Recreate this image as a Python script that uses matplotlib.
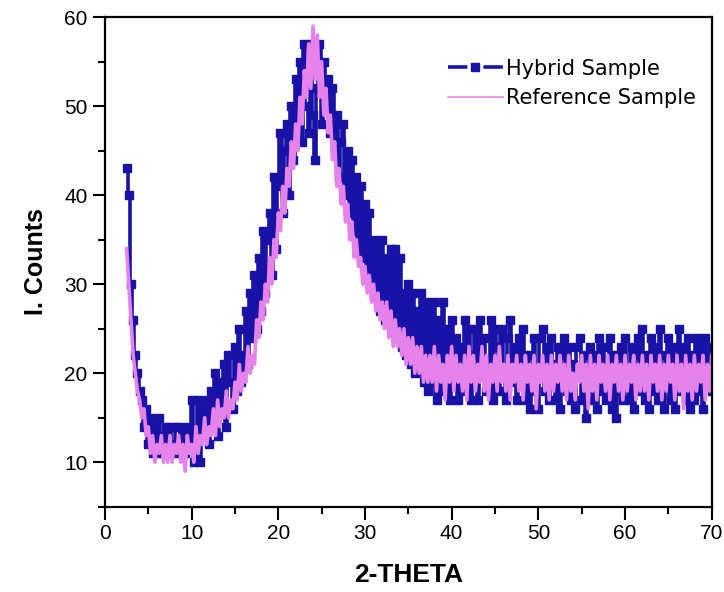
import numpy as np
import matplotlib.pyplot as plt
from matplotlib.ticker import MultipleLocator

# both scans share a 0.25 degree 2-theta step
theta = np.arange(2.5, 70.01, 0.25)

hybrid_counts = [
    43, 40, 30, 26, 22, 20, 18, 17, 14, 16, 12, 15, 11, 14, 11, 15, 13, 11, 14, 11,
    14, 12, 11, 14, 14, 11, 13, 11, 14, 12, 17, 10, 11, 17, 10, 16, 13, 17, 12, 18,
    14, 20, 13, 19, 16, 21, 14, 22, 19, 16, 23, 18, 25, 19, 22, 27, 21, 29, 24, 31,
    25, 33, 27, 36, 29, 35, 38, 31, 42, 34, 41, 47, 38, 45, 48, 40, 50, 44, 53, 47,
    55, 46, 57, 50, 47, 57, 49, 44, 52, 57, 48, 55, 50, 53, 47, 52, 45, 49, 42, 46,
    48, 40, 45, 38, 44, 36, 42, 34, 41, 33, 39, 31, 38, 30, 35, 29, 34, 27, 35, 26,
    33, 26, 34, 25, 34, 24, 33, 23, 29, 22, 30, 21, 29, 20, 27, 21, 29, 19, 28, 18,
    27, 19, 28, 17, 26, 18, 28, 19, 25, 17, 26, 20, 24, 17, 23, 18, 26, 19, 25, 17,
    22, 25, 17, 26, 20, 24, 18, 19, 26, 17, 25, 23, 18, 25, 20, 17, 24, 26, 19, 23,
    17, 24, 19, 25, 17, 22, 16, 18, 24, 20, 16, 24, 25, 18, 23, 17, 24, 21, 17, 23,
    16, 22, 24, 18, 23, 17, 21, 16, 23, 24, 17, 22, 15, 20, 23, 17, 22, 16, 24, 18,
    23, 17, 21, 24, 16, 22, 15, 18, 23, 17, 24, 19, 17, 23, 16, 22, 24, 18, 25, 17,
    22, 16, 24, 18, 23, 17, 25, 19, 16, 22, 24, 17, 23, 16, 21, 25, 18, 23, 17, 24,
    16, 22, 17, 24, 18, 23, 16, 24, 19, 23, 18,
]

reference_counts = [
    34, 30, 26, 22, 20, 18, 17, 15, 16, 13, 14, 11, 13, 10, 12, 11, 13, 10, 12, 10,
    13, 10, 12, 11, 13, 10, 12, 9, 13, 11, 12, 10, 14, 11, 13, 12, 15, 12, 14, 13,
    16, 13, 17, 14, 16, 15, 18, 15, 17, 16, 19, 17, 21, 18, 20, 19, 23, 20, 22, 21,
    26, 24, 28, 26, 30, 28, 33, 30, 35, 33, 38, 36, 41, 38, 43, 41, 46, 43, 48, 45,
    51, 48, 54, 51, 57, 52, 59, 53, 58, 51, 55, 49, 52, 47, 49, 44, 46, 41, 43, 39,
    41, 37, 39, 35, 37, 33, 35, 32, 33, 30, 32, 29, 31, 28, 30, 27, 29, 26, 28, 25,
    28, 24, 27, 23, 26, 23, 25, 22, 25, 21, 24, 21, 24, 20, 23, 20, 23, 19, 22, 19,
    22, 19, 23, 18, 22, 19, 21, 17, 22, 19, 23, 18, 22, 19, 21, 18, 22, 17, 23, 19,
    22, 18, 21, 19, 23, 18, 22, 17, 21, 19, 22, 18, 23, 19, 21, 18, 22, 17, 21, 19,
    22, 18, 21, 17, 22, 19, 21, 18, 22, 16, 21, 19, 22, 18, 21, 17, 22, 18, 21, 19,
    22, 18, 21, 17, 22, 18, 20, 17, 21, 19, 22, 18, 21, 16, 22, 18, 21, 17, 22, 19,
    21, 18, 22, 17, 21, 19, 22, 18, 21, 17, 22, 18, 21, 19, 22, 17, 21, 18, 22, 18,
    21, 17, 22, 19, 21, 18, 22, 17, 21, 18, 22, 19, 21, 17, 22, 18, 21, 16, 22, 18,
    21, 17, 22, 18, 21, 19, 22, 17, 21, 18, 22,
]

plt.rcParams["font.family"] = ["Liberation Sans", "DejaVu Sans"]
plt.rcParams["lines.scale_dashes"] = False

fig = plt.figure(figsize=(7.24, 5.92), dpi=100)
ax = fig.add_axes([0.145, 0.144, 0.838, 0.827])

ax.plot(theta, hybrid_counts, color="#1812a6", lw=2.6, marker="s", ms=6,
        drawstyle="steps-mid", label="Hybrid Sample")
ax.plot(theta, reference_counts, color="#e683ea", lw=2.6,
        label="Reference Sample")

ax.set_xlim(0, 70)
ax.set_ylim(5, 60)
ax.xaxis.set_major_locator(MultipleLocator(10))
ax.xaxis.set_minor_locator(MultipleLocator(5))
ax.yaxis.set_major_locator(MultipleLocator(10))
ax.yaxis.set_minor_locator(MultipleLocator(5))
ax.tick_params(which="major", direction="out", length=9, width=1.5, labelsize=15)
ax.tick_params(which="minor", direction="out", length=5, width=1.5)
for s in ax.spines.values():
    s.set_linewidth(1.6)

ax.set_xlabel("2-THETA", fontsize=19, fontweight="bold", labelpad=14)
ax.set_ylabel("I. Counts", fontsize=18, fontweight="bold", labelpad=12)

leg = ax.legend(loc="upper left", bbox_to_anchor=(0.566, 0.915), frameon=False,
                borderpad=0, borderaxespad=0, handlelength=2.6,
                handletextpad=0.15, labelspacing=0.45,
                prop={"family": "DejaVu Sans", "size": 15})
hyb_handle = leg.legend_handles[0]
hyb_handle.set_linestyle((0, (14, 11.5)))
hyb_handle.set_drawstyle("default")
leg.legend_handles[1].set_linewidth(1.2)

fig.savefig("out.png", dpi=100)
